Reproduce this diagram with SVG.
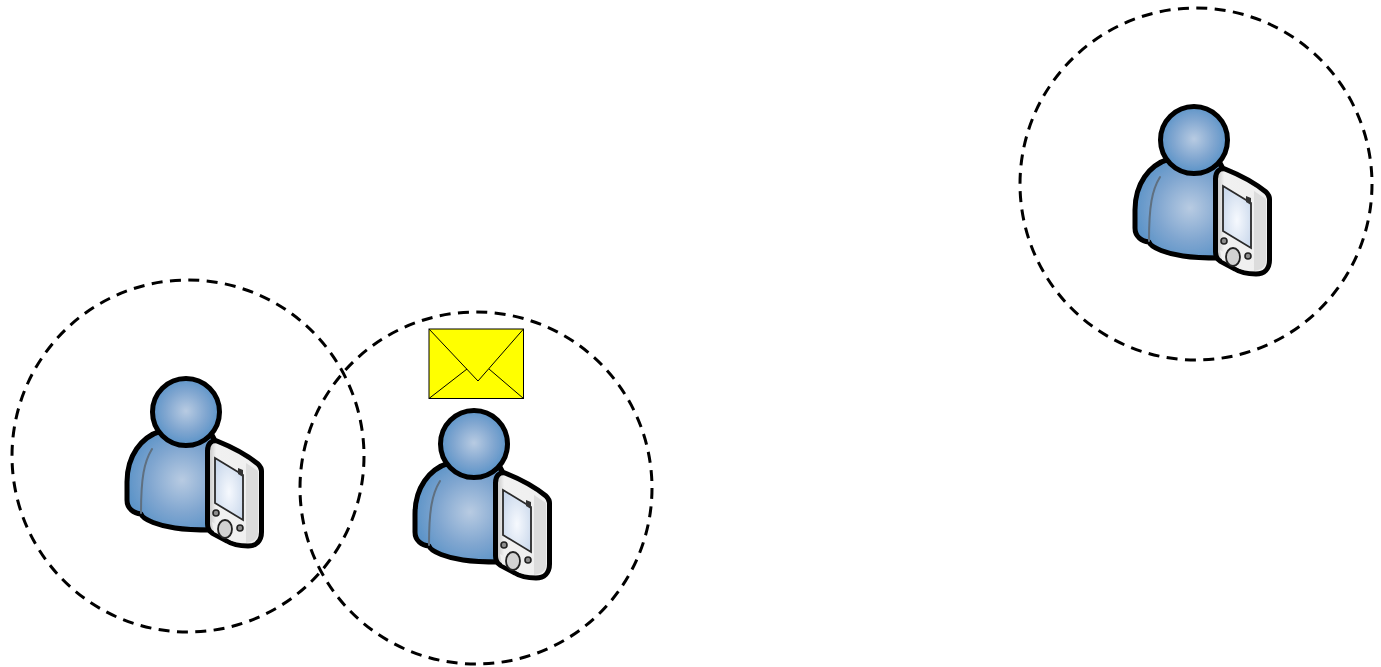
<svg xmlns="http://www.w3.org/2000/svg" xmlns:xlink="http://www.w3.org/1999/xlink" width="1381" height="667" viewBox="0 0 1381 667">
<style>
.range{fill:none;stroke:#000;stroke-width:3;stroke-dasharray:11 7.43}
.ol{stroke:#000;stroke-width:5;stroke-linejoin:round}
.crease{fill:none;stroke:#5f6f80;stroke-width:2;stroke-linecap:round}
.env{fill:#ff0;stroke:#000;stroke-width:1}
.envl{fill:none;stroke:#000;stroke-width:1}
</style>
<defs>
<filter id="soft" x="-5%" y="-5%" width="110%" height="110%"><feGaussianBlur stdDeviation="0.5"/></filter>
<radialGradient id="bodyG" gradientUnits="userSpaceOnUse" cx="182" cy="480" r="60">
<stop offset="0" stop-color="#b8cbe2"/><stop offset="0.55" stop-color="#80a6d0"/><stop offset="1" stop-color="#5590c6"/>
</radialGradient>
<radialGradient id="headG" gradientUnits="userSpaceOnUse" cx="186" cy="411" r="34">
<stop offset="0" stop-color="#b8cbe2"/><stop offset="0.6" stop-color="#80a6d0"/><stop offset="1" stop-color="#5a93c8"/>
</radialGradient>
<linearGradient id="devG" x1="0" y1="0" x2="1" y2="0">
<stop offset="0" stop-color="#bdbdbd"/><stop offset="0.16" stop-color="#f1f1f1"/><stop offset="1" stop-color="#efefef"/>
</linearGradient>
<radialGradient id="scrG" cx="0.5" cy="0.55" r="0.6">
<stop offset="0" stop-color="#f6f9fe"/><stop offset="1" stop-color="#cbd9ec"/>
</radialGradient>
<g id="person" filter="url(#soft)">
<path class="ol" fill="url(#bodyG)" d="M161 431C141 437 127 456 127 482V500C127 509 134 513 141 514C143 520 160 526 175 528C188 530 200 530 212 530L225 460L212 435C203 440 195 443 186 443C175 443 167 438 161 431Z"/>
<path class="crease" d="M152 449C144 462 141 478 141 513"/>
<path class="crease" d="M163 436C170 441 178 443 186 443C195 443 204 441 211 436"/>
<circle class="ol" fill="url(#headG)" cx="186" cy="412" r="33.500"/>
<path class="ol" stroke-width="3.500" fill="url(#devG)" d="M207.500 451C207.500 444 211 440 217 441C232 447 247 455 258 464C260 466 261.500 468 261.500 471V532C261.500 541 256 546 248 546C240 546 233 545 227 541L212 533C209 531 207.500 528 207.500 524Z"/>
<path fill="#dcdcdc" d="M246 463L258 471V533C258 538 254 541 250 542L246 543Z"/>
<path fill="#f0f0f0" d="M212 522L243 540L246 543L232 541L214 532Z"/>
<path fill="url(#scrG)" stroke="#2a2a2a" stroke-width="1.800" d="M215 458L243 475V520L215 503Z"/>
<path fill="#333" d="M238 468L243 470V477L238 474Z"/>
<circle cx="216" cy="513" r="3" fill="#8d8d8d" stroke="#222" stroke-width="1.600"/>
<circle cx="240" cy="528" r="3" fill="#8d8d8d" stroke="#222" stroke-width="1.600"/>
<ellipse cx="225" cy="529" rx="7" ry="9" fill="#d2d2d2" stroke="#222" stroke-width="1.800"/>
</g>
</defs>
<g id="range-left"><circle class="range" cx="188" cy="456" r="176"/></g>
<g id="range-middle"><circle class="range" cx="476" cy="488" r="176"/></g>
<g id="range-right"><circle class="range" cx="1196" cy="184" r="176"/></g>
<g id="node-left"><use xlink:href="#person" href="#person"/></g>
<g id="node-middle"><use xlink:href="#person" href="#person" x="288" y="32"/></g>
<g id="node-right"><use xlink:href="#person" href="#person" x="1008" y="-272"/></g>
<g id="message">
<rect class="env" x="429" y="329" width="94.500" height="69.500"/>
<path class="envl" d="M429 329L478 381L523.500 329M429 398.500L467 369M523.500 398.500L489 369"/>
</g>
</svg>
